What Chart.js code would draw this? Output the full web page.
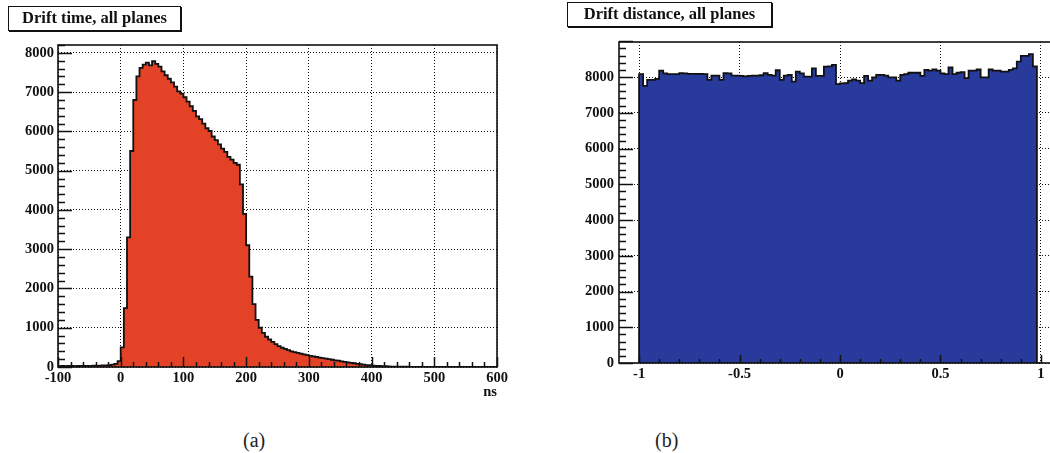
<!DOCTYPE html>
<html>
<head>
<meta charset="utf-8">
<script src="https://cdn.jsdelivr.net/npm/chart.js@4.4.1/dist/chart.umd.min.js"></script>
<style>
	html, body { margin: 0; padding: 0; background: #fff; width: 1050px; height: 453px; overflow: hidden; position: relative; }
	canvas { position: absolute; top: 0; }
	.titlebox {
		position: absolute; box-sizing: border-box; background: #fff; z-index: 2;
		border: 1.5px solid #111; box-shadow: 1px 1px 0 #111;
		font: bold 16.5px "Liberation Serif", serif; color: #111;
		text-align: center; line-height: 21px;
	}
	.caption { position: absolute; font: 20px "Liberation Serif", serif; color: #222; }
</style>
</head>
<body>
<div class="titlebox" style="left:8px;top:6px;width:173px;height:25px;">Drift time, all planes</div>
<div class="titlebox" style="left:567px;top:2px;width:205px;height:25px;">Drift distance, all planes</div>
<canvas id="timeChart" width="530" height="410" style="left:0px"></canvas>
<canvas id="distChart" width="540" height="410" style="left:540px"></canvas>
<div class="caption" style="left:243px;top:429px;">(a)</div>
<div class="caption" style="left:655px;top:429px;">(b)</div>

<script>
// Drift time histogram: 5 ns bins from -100 to 600 ns
const timeStart = -100;
const timeBin = 5;
const timeCounts = [
	20, 20, 25, 20, 25, 25, 20, 25, 30, 25, 30, 30, 35, 30, 35, 40, 40, 50, 60, 80,
	150, 500, 1500, 3300, 5500, 6800, 7400, 7620, 7700, 7750, 7680, 7790, 7720, 7650, 7530, 7430, 7340, 7250, 7140, 7020,
	6960, 6870, 6760, 6640, 6520, 6380, 6310, 6200, 6080, 6010, 5870, 5780, 5670, 5560, 5480, 5350, 5280, 5200, 5150, 4650,
	3900, 3100, 2300, 1600, 1200, 1000, 870, 770, 700, 640, 580, 530, 490, 460, 430, 400, 380, 360, 340, 320,
	300, 285, 270, 255, 240, 225, 215, 200, 185, 170, 160, 145, 130, 120, 105, 95, 80, 70, 60, 50,
	45, 35, 30, 25, 20, 20, 15, 12, 10, 10, 8, 7, 6, 5, 5, 4, 4, 3, 3, 3,
	3, 2, 2, 2, 2, 2, 2, 1, 1, 1, 1, 1, 1, 1, 1, 1, 1, 1, 1, 1,
];
const timeXTicks = [-100, 0, 100, 200, 300, 400, 500, 600];
const timeYTicks = [0, 1000, 2000, 3000, 4000, 5000, 6000, 7000, 8000];

// Drift distance histogram: 0.02 bins from -1 to 1
const distStart = -1;
const distBin = 0.02;
const distCounts = [
	8080, 8080, 7750, 7920, 7920, 7950, 8180, 8100, 8080, 8080,
	8080, 8110, 8100, 8090, 8090, 8090, 8090, 8080, 7920, 8040,
	8040, 7920, 8110, 8100, 8040, 8040, 8030, 8020, 8030, 8040,
	8040, 8050, 8110, 8060, 8040, 8190, 7920, 8040, 8060, 7870,
	8150, 8100, 8010, 8010, 8240, 8030, 8030, 8290, 8300, 8340,
	7800, 7820, 7830, 7900, 7935, 7900, 7830, 8030, 7900, 7990,
	8060, 8060, 8040, 7990, 7990, 7900, 8060, 8080, 8120, 8120,
	8120, 8030, 8200, 8180, 8210, 8180, 8100, 8080, 8270, 8080,
	8120, 8140, 7970, 8180, 8180, 8210, 7990, 7990, 8210, 8180,
	8180, 8150, 8150, 8200, 8240, 8430, 8590, 8590, 8640, 8300,
];
const distXTicks = [-1, -0.5, 0, 0.5, 1];
const distYTicks = [0, 1000, 2000, 3000, 4000, 5000, 6000, 7000, 8000];

const serif = '"Liberation Serif", "Times New Roman", serif';

// Turn bin counts into step points: left edge of each bin, closed at both ends
function histPoints(start, width, counts) {
	const pts = [{ x: start, y: 0 }];
	counts.forEach((c, i) => pts.push({ x: start + i * width, y: c }));
	pts.push({ x: start + counts.length * width, y: 0 });
	return pts;
}

// ROOT style frame with ticks pointing into the plot
const rootFrame = {
	id: 'rootFrame',
	afterDatasetsDraw(chart, args, opts) {
		const { ctx, chartArea: a, scales } = chart;
		ctx.save();
		ctx.strokeStyle = '#111';
		ctx.lineWidth = 1.5;
		ctx.beginPath();

		const xs = scales.x;
		const nx = Math.round((xs.max - opts.xFirst) / opts.xMinor + 1e-6);
		for (let i = 0; i <= nx; i++) {
			const v = opts.xFirst + i * opts.xMinor;
			const major = Math.abs(v / opts.xMajor - Math.round(v / opts.xMajor)) < 1e-6;
			const px = Math.round(xs.getPixelForValue(v)) + 0.5;
			ctx.moveTo(px, a.bottom);
			ctx.lineTo(px, a.bottom - (major ? opts.xLen[0] : opts.xLen[1]));
		}

		const ys = scales.y;
		const ny = Math.round(ys.max / opts.yMinor + 1e-6);
		for (let i = 0; i <= ny; i++) {
			const v = i * opts.yMinor;
			const major = v % opts.yMajor === 0;
			const py = Math.round(ys.getPixelForValue(v)) + 0.5;
			ctx.moveTo(a.left, py);
			ctx.lineTo(a.left + (major ? opts.yLen[0] : opts.yLen[1]), py);
		}
		ctx.stroke();

		ctx.lineWidth = 1.6;
		ctx.strokeRect(a.left, a.top, a.right - a.left, a.bottom - a.top);
		ctx.restore();
	},
};

function fixedTicks(values) {
	return (scale) => { scale.ticks = values.map((v) => ({ value: v })); };
}

function makeConfig(points, fill, xOpts, yOpts, frame, pad) {
	const grid = { color: '#111', lineWidth: 1, drawTicks: false };
	const border = { display: false, dash: [1, 2] };
	return {
		type: 'line',
		data: {
			datasets: [{
				data: points,
				stepped: 'after',
				fill: 'origin',
				backgroundColor: fill,
				borderColor: '#111',
				borderWidth: 1.8,
				pointRadius: 0,
			}],
		},
		options: {
			responsive: false,
			animation: false,
			layout: { padding: pad },
			plugins: {
				legend: { display: false },
				tooltip: { enabled: false },
				rootFrame: frame,
			},
			scales: {
				x: Object.assign({
					type: 'linear',
					border: Object.assign({}, border),
					grid: Object.assign({}, grid),
					afterFit: (s) => { s.height = 40; },
				}, xOpts),
				y: Object.assign({
					type: 'linear',
					min: 0,
					border: Object.assign({}, border),
					grid: Object.assign({}, grid),
				}, yOpts),
			},
		},
		plugins: [rootFrame],
	};
}

const tickFont = { family: serif, size: 14.5, weight: 'bold' };
const plainLabel = (v) => String(Math.round(v * 100) / 100);

document.addEventListener('DOMContentLoaded', () => {
	Chart.defaults.font.family = serif;
	Chart.defaults.color = '#111';

	new Chart(document.getElementById('timeChart'), makeConfig(
		histPoints(timeStart, timeBin, timeCounts),
		'rgb(228, 66, 38)',
		{
			min: -100, max: 600,
			afterBuildTicks: fixedTicks(timeXTicks),
			ticks: { autoSkip: false, maxRotation: 0, padding: 3, font: tickFont, callback: plainLabel },
			title: { display: true, text: 'ns', align: 'end', font: tickFont, padding: { top: 0, bottom: 6 } },
		},
		{
			max: 8200,
			afterBuildTicks: fixedTicks(timeYTicks),
			ticks: { autoSkip: false, padding: 4, font: tickFont, callback: plainLabel },
			afterFit: (s) => { s.width = 58; },
		},
		{ xFirst: -100, xMinor: 20, xMajor: 100, xLen: [10, 5], yMinor: 200, yMajor: 1000, yLen: [14, 7] },
		{ left: 0, top: 45, right: 33, bottom: 3 }
	));

	new Chart(document.getElementById('distChart'), makeConfig(
		histPoints(distStart, distBin, distCounts),
		'rgb(40, 58, 155)',
		{
			min: -1.1, max: 1.1,
			afterBuildTicks: fixedTicks(distXTicks),
			ticks: { autoSkip: false, maxRotation: 0, padding: 3, font: tickFont, callback: plainLabel },
		},
		{
			max: 8980,
			afterBuildTicks: fixedTicks(distYTicks),
			ticks: { autoSkip: false, padding: 5, font: tickFont, callback: plainLabel },
			afterFit: (s) => { s.width = 79; },
		},
		{ xFirst: -1, xMinor: 0.1, xMajor: 0.5, xLen: [8, 4], yMinor: 200, yMajor: 1000, yLen: [14, 7] },
		{ left: 0, top: 42, right: 19, bottom: 7 }
	));
});
</script>
</body>
</html>
